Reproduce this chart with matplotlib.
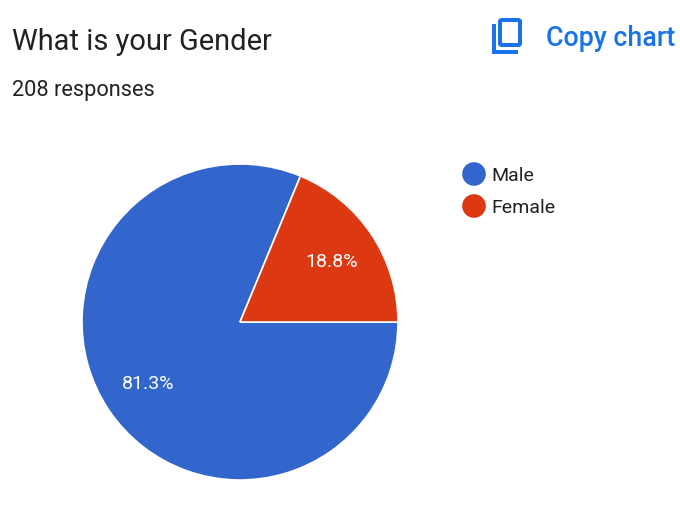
import matplotlib
matplotlib.use("Agg")
import matplotlib.pyplot as plt
from matplotlib.patches import Rectangle, FancyBboxPatch
from decimal import Decimal, ROUND_HALF_UP
import math

plt.rcParams['font.family'] = ['Roboto', 'DejaVu Sans']

title = "What is your Gender"
subtitle = "208 responses"
categories = ["Male", "Female"]
counts = [169, 39]
colors = ["#3366CC", "#DC3912"]

fig = plt.figure(figsize=(6.8, 5.06), dpi=100)
W, H = 680, 506

def fx(px):
    return px / W

def fy(py):
    return 1 - py / H

fig.text(fx(12), fy(42), title, fontsize=20.9, color="#202124", va="center", ha="left")
fig.text(fx(12), fy(91), subtitle, fontsize=15.7, color="#202124", va="center", ha="left")
fig.text(fx(675), fy(38), "Copy chart", fontsize=19.3, color="#1A73E8", va="center", ha="right",
         fontweight="medium")

# copy icon
blue = "#1A73E8"
fig.add_artist(Rectangle((fx(492), fy(55)), fx(4), 30 / H, transform=fig.transFigure,
                         facecolor=blue, edgecolor="none"))
fig.add_artist(Rectangle((fx(492), fy(55)), fx(26), 4 / H, transform=fig.transFigure,
                         facecolor=blue, edgecolor="none"))
fig.add_artist(FancyBboxPatch((fx(500), fy(46)), fx(20), 25 / H, transform=fig.transFigure,
                              boxstyle="round,pad=0,rounding_size=0.003",
                              facecolor="none", edgecolor=blue, linewidth=2.9))

total = sum(counts)
ax = fig.add_axes([fx(240 - 158), fy(323 + 158), fx(316), 316 / H])
start = 360.0 * counts[1] / total
wedges, _ = ax.pie(counts, colors=colors, startangle=start, counterclock=True,
                   wedgeprops=dict(edgecolor="white", linewidth=1.2))
ax.set_xlim(-1.0, 1.0)
ax.set_ylim(-1.0, 1.0)
ax.set_aspect("equal")

acc = start
for c, cnt in zip(categories, counts):
    ang = 360.0 * cnt / total
    mid = math.radians(acc + ang / 2)
    pct = (Decimal(100 * cnt) / Decimal(total)).quantize(Decimal("0.1"), rounding=ROUND_HALF_UP)
    ax.text(0.7 * math.cos(mid), 0.7 * math.sin(mid), f"{pct}%", color="white",
            fontsize=14, ha="center", va="center")
    acc += ang

# legend
for i, c in enumerate(categories):
    y = 176 + 32 * i
    fig.text(fx(491), fy(y), c, fontsize=14, color="#202124", va="center", ha="left")
leg_ax = fig.add_axes([0, 0, 1, 1], facecolor="none")
leg_ax.set_xlim(0, W)
leg_ax.set_ylim(H, 0)
leg_ax.axis("off")
for i, col in enumerate(colors):
    leg_ax.scatter([474], [175 + 32 * i], s=290, color=col, edgecolors="none")

fig.savefig("out.png", dpi=100, facecolor="white")
